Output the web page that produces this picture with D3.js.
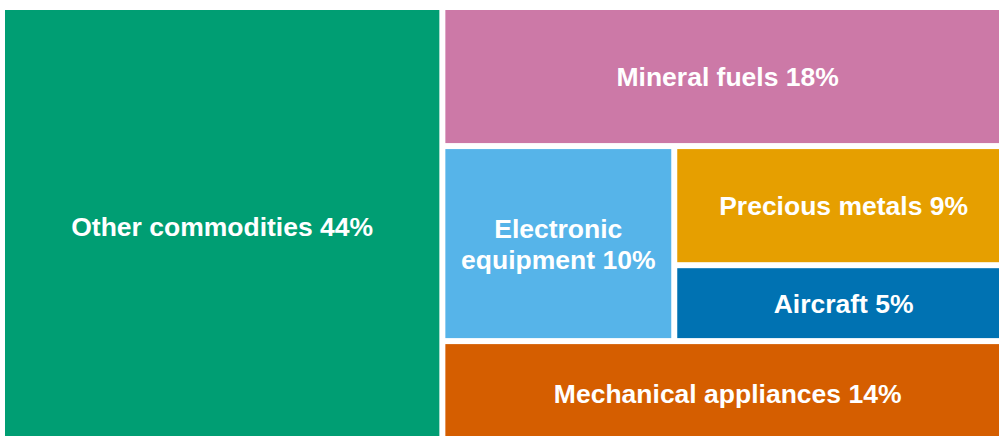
<!DOCTYPE html>
<html>
<head>
<meta charset="utf-8">
<script src="https://cdn.jsdelivr.net/npm/d3@7"></script>
<style>
  body { margin: 0; background: #fff; }
  svg { display: block; }
  .label { font-family: "Liberation Sans", Arial, sans-serif; font-weight: bold; fill: #fff; }
</style>
</head>
<body>
<svg id="chart" width="999" height="436"></svg>
<script>
// Categories and their labelled shares
const categories = ["Other commodities", "Mineral fuels", "Electronic\nequipment", "Precious metals", "Aircraft", "Mechanical appliances"];
const percentLabels = [44, 18, 10, 9, 5, 14];
// Box sizes (areas, % of total)
const boxShares = [43.6, 17.9, 10.2, 9.1, 5.8, 13.5];
const colors = ["#009E73", "#CC79A7", "#56B4E9", "#E69F00", "#0072B2", "#D55E00"];

const margin = { top: 10, left: 5 };
const width = 1005, height = 433;
const fontSize = 26.5;

const leaf = (i) => ({ idx: i, value: boxShares[i] });

// Nesting: Other | (Mineral / (Electronic | (Precious / Aircraft)) / Mechanical)
const tree = {
  children: [
    leaf(0),
    { children: [
      leaf(1),
      { children: [leaf(2), { children: [leaf(3), leaf(4)] }] },
      leaf(5)
    ] }
  ]
};

const root = d3.hierarchy(tree).sum((d) => d.value || 0);

d3.treemap()
  .tile(d3.treemapSliceDice)
  .size([width, height])
  .paddingInner(6)(root);

const svg = d3.select("#chart");
const g = svg.append("g").attr("transform", `translate(${margin.left},${margin.top})`);

const cells = g.selectAll(".cell")
  .data(root.leaves())
  .enter()
  .append("g")
  .attr("class", "cell");

cells.append("rect")
  .attr("x", (d) => d.x0)
  .attr("y", (d) => d.y0)
  .attr("width", (d) => d.x1 - d.x0)
  .attr("height", (d) => d.y1 - d.y0)
  .attr("fill", (d) => colors[d.data.idx]);

cells.each(function (d) {
  const lines = (categories[d.data.idx] + " " + percentLabels[d.data.idx] + "%").split("\n");
  const cx = (d.x0 + d.x1) / 2;
  const cy = (d.y0 + d.y1) / 2;
  const lineH = 31;
  const first = cy + fontSize * 0.358 - (lines.length - 1) * lineH / 2;
  const text = d3.select(this).append("text")
    .attr("class", "label")
    .attr("text-anchor", "middle")
    .style("font-size", fontSize + "px");
  lines.forEach((ln, i) => {
    text.append("tspan")
      .attr("x", cx)
      .attr("y", first + i * lineH)
      .text(ln);
  });
});
</script>
</body>
</html>
